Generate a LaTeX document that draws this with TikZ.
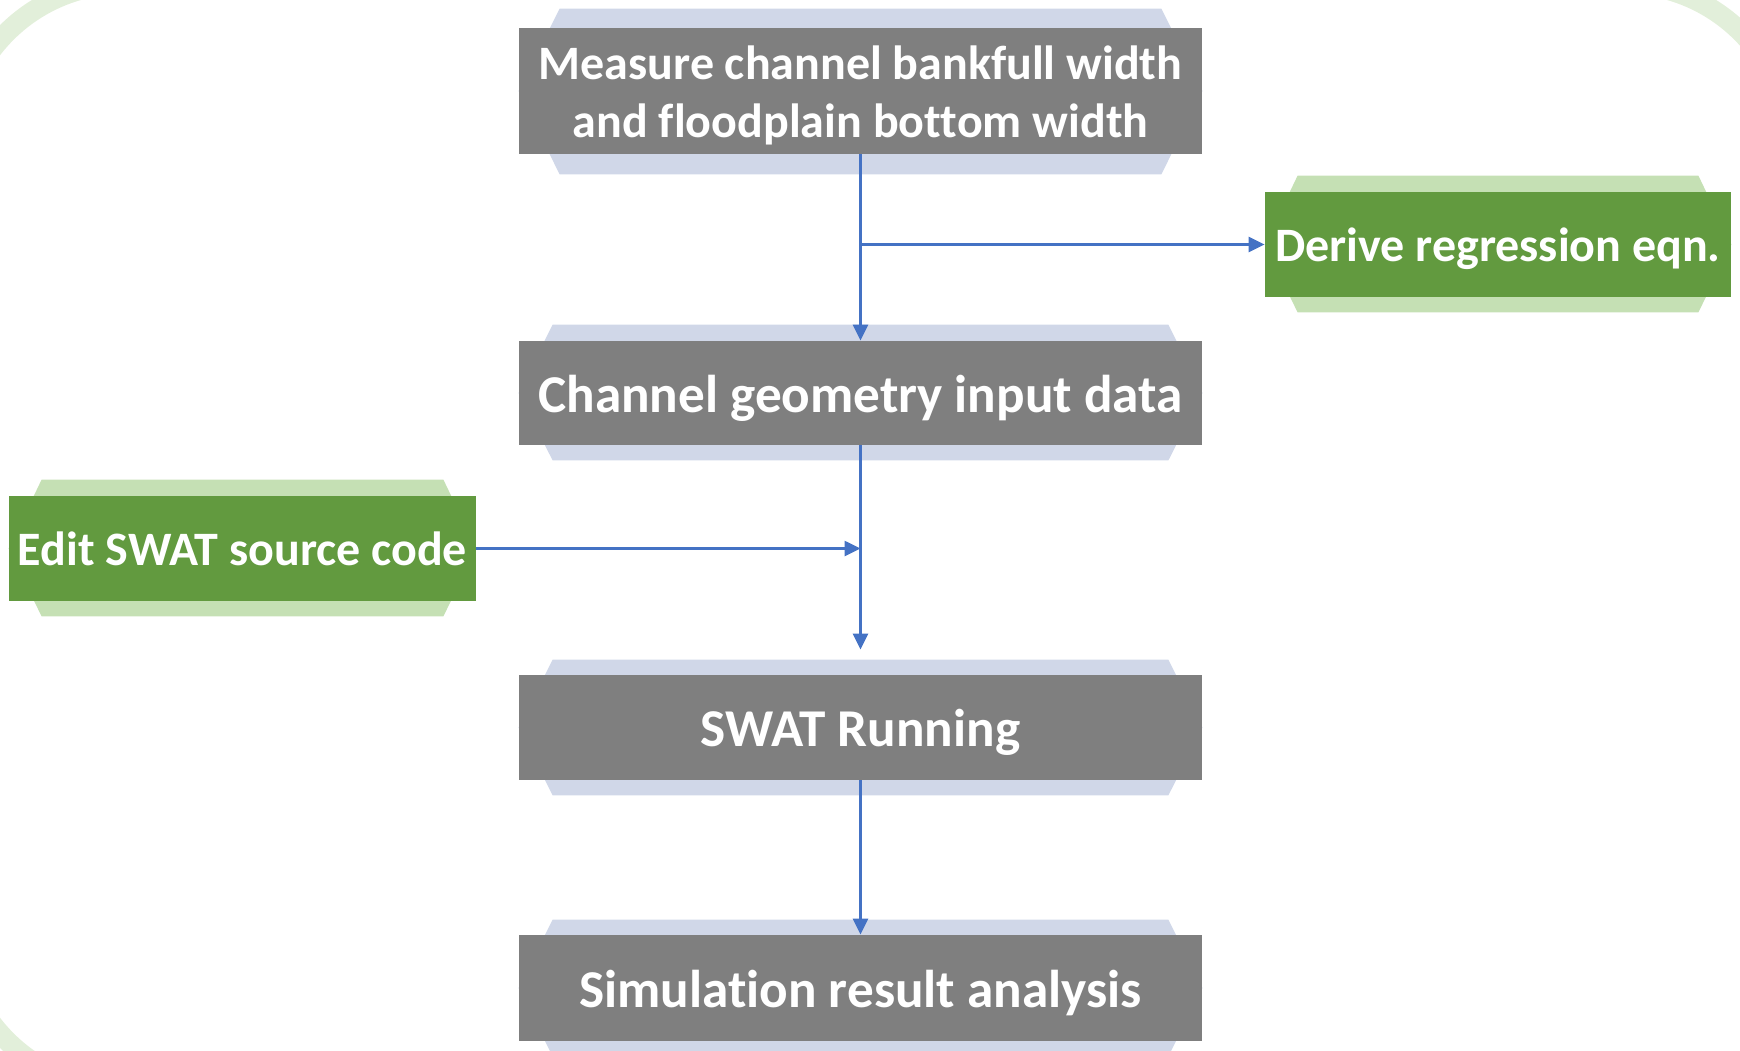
\documentclass[tikz,border=0pt]{standalone}
\usepackage{fontspec}
\setmainfont{Carlito}[Ligatures=CommonOff]
\usetikzlibrary{arrows.meta,calc,backgrounds}
\definecolor{boxgray}{HTML}{7F7F7F}
\definecolor{boxgreen}{HTML}{629A3F}
\definecolor{hexblue}{HTML}{D0D7E8}
\definecolor{hexgreen}{HTML}{C5E0B4}
\definecolor{arrowblue}{HTML}{4472C4}
\definecolor{bandgreen}{HTML}{E2EFDA}
% #1 node, #2 colour, #3 top/bottom inset, #4 extra height above, #5 extra height below
\newcommand{\hexbehind}[5]{%
  \fill[#2] ($(#1.north west)+(#3,-#4)$) -- ($(#1.north east)+(-#3,-#4)$)
    -- (#1.east) -- ($(#1.south east)+(-#3,#5)$) -- ($(#1.south west)+(#3,#5)$)
    -- (#1.west) -- cycle;}
% one line of text, its baseline 0.36em below the node centre
\newcommand{\oneline}[1]{\raisebox{-0.36em}[0pt][0pt]{#1}}
% two lines of text, centred on the node centre
\newcommand{\twolines}[2]{\raisebox{\dimexpr-14.45pt-0.36em\relax}[0pt][0pt]{%
  \begin{tabular}[b]{@{}c@{}}#1\\#2\end{tabular}}}
\begin{document}
\begin{tikzpicture}[x=0.5pt,y=-0.5pt,
  boxbase/.style={rectangle, text=white, inner sep=0pt},
  graybox/.style={boxbase, fill=boxgray, minimum width=341.5pt,
    font=\bfseries\fontsize{26.6}{32}\selectfont},
  graybox2/.style={graybox, font=\bfseries\fontsize{24}{28.9}\selectfont},
  greenbox/.style={boxbase, fill=boxgreen, minimum height=52.5pt,
    font=\bfseries\fontsize{24}{28.9}\selectfont},
  arr/.style={draw=arrowblue, line width=1.3pt, -{Triangle[length=8pt,width=7.5pt]}},
]
\useasboundingbox (0,0) rectangle (1740,1050);
\clip (0,0) rectangle (1740,1050);
% background band
\draw[bandgreen, line width=10pt, rounded corners=83pt]
  (1790,1300) -- (1790,-16) -- (-42,-16) -- (-42,1089) -- (2000,1089);
% boxes
\node[graybox2, minimum height=63pt] (m) at (860.5,91)
  {\twolines{Measure channel bankfull width}{and floodplain bottom width}};
\node[graybox, minimum height=52pt] (c) at (860.5,393) {\oneline{Channel geometry input data}};
\node[graybox, minimum height=52.5pt] (s) at (860.5,727.5) {\oneline{SWAT Running}};
\node[graybox, minimum height=53pt] (r) at (860.5,988) {\oneline{Simulation result analysis}};
\node[greenbox, minimum width=233pt] (d) at (1498,244.5) {\oneline{Derive regression eqn.}};
\node[greenbox, minimum width=233.5pt] (e) at (242.5,548.5) {\oneline{Edit SWAT source code}};
% hexagons behind
\begin{scope}[on background layer]
  \hexbehind{m}{hexblue}{41}{19}{20}
  \hexbehind{c}{hexblue}{34}{16}{15}
  \hexbehind{s}{hexblue}{34}{15}{15}
  \hexbehind{r}{hexblue}{34}{15}{15}
  \hexbehind{d}{hexgreen}{33}{16}{15}
  \hexbehind{e}{hexgreen}{33}{16}{15}
\end{scope}
% connectors
\draw[arr] (m.south) -- (c.north);
\draw[arr] (d.west -| m.south) -- (d.west);
\draw[arr, shorten >=12.5pt] (c.south) -- (s.north);
\draw[arr] (e.east) -- (e.east -| c.south);
\draw[arr] (s.south) -- (r.north);
\end{tikzpicture}
\end{document}
